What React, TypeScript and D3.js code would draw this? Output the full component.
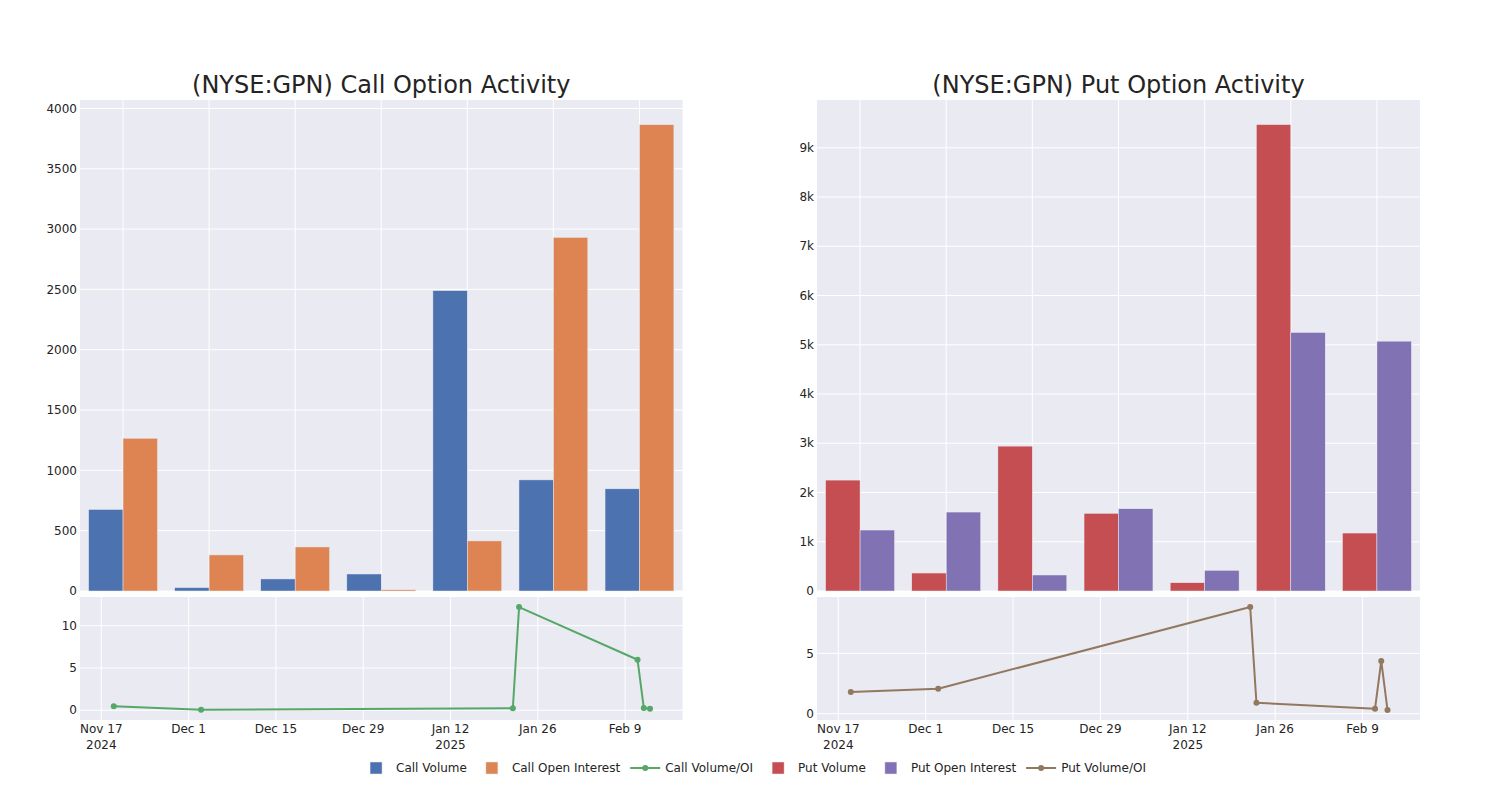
import React from 'react';
import * as d3 from 'd3';

// ---------- data ----------
const periods = ['W1', 'W2', 'W3', 'W4', 'W5', 'W6', 'W7'];
const callVolume = [676, 28, 100, 141, 2490, 921, 847];
const callOpenInterest = [1266, 299, 365, 10, 415, 2931, 3865];
const putVolume = [2252, 365, 2942, 1577, 168, 9471, 1177];
const putOpenInterest = [1238, 1603, 325, 1670, 420, 5250, 5073];

const ratioDates = ['2024-11-19', '2024-12-03', '2025-01-22', '2025-01-23', '2025-02-11', '2025-02-12', '2025-02-13'];
const callRatio = [0.47, 0.07, 0.24, 12.2, 5.97, 0.27, 0.19];
const putRatio = [1.8, 2.07, 8.84, 0.91, 0.41, 4.37, 0.31];

const dateTicks = ['2024-11-17', '2024-12-01', '2024-12-15', '2024-12-29', '2025-01-12', '2025-01-26', '2025-02-09'];
const dateDomain = ['2024-11-13 14:00', '2025-02-18 05:00'];
const callBarTicks = [0, 500, 1000, 1500, 2000, 2500, 3000, 3500, 4000];
const putBarTicks = [0, 1000, 2000, 3000, 4000, 5000, 6000, 7000, 8000, 9000];
const callRatioTicks = [0, 5, 10];
const putRatioTicks = [0, 5];
const callBarMax = 4070;
const putBarMax = 9970;
const callRatioDomain = [-1.15, 13.39];
const putRatioDomain = [-0.52, 9.67];

const titles = ['(NYSE:GPN) Call Option Activity', '(NYSE:GPN) Put Option Activity'];

const COLORS = {
  callVol: 'rgb(76,114,176)',
  callOI: 'rgb(221,132,82)',
  callRatio: 'rgb(85,168,104)',
  putVol: 'rgb(196,78,82)',
  putOI: 'rgb(129,114,179)',
  putRatio: 'rgb(147,120,96)',
};

const legendItems = [
  { name: 'Call Volume', color: COLORS.callVol, type: 'bar' },
  { name: 'Call Open Interest', color: COLORS.callOI, type: 'bar' },
  { name: 'Call Volume/OI', color: COLORS.callRatio, type: 'line' },
  { name: 'Put Volume', color: COLORS.putVol, type: 'bar' },
  { name: 'Put Open Interest', color: COLORS.putOI, type: 'bar' },
  { name: 'Put Volume/OI', color: COLORS.putRatio, type: 'line' },
];

const FONT = '"DejaVu Sans", Verdana, sans-serif';
const TEXT = 'rgb(36,36,36)';
const BG = 'rgb(234,234,242)';

const parseDay = d3.timeParse('%Y-%m-%d');
const parseDT = d3.timeParse('%Y-%m-%d %H:%M');
const fmtMD = d3.timeFormat('%b %-d');

function measure(text: string, size: number) {
  const c = document.createElement('canvas').getContext('2d');
  if (!c) return text.length * size * 0.6;
  c.font = `${size}px "DejaVu Sans"`;
  return c.measureText(text).width;
}

type PanelProps = {
  x0: number; x1: number;
  title: string;
  vol: number[]; oi: number[];
  volColor: string; oiColor: string;
  barMax: number; barTicks: number[]; barFmt: (v: number) => string;
  ratio: number[]; ratioColor: string; ratioDomain: number[]; ratioTicks: number[];
};

const TOP_Y0 = 100, TOP_Y1 = 591, BOT_Y0 = 597, BOT_Y1 = 720;

function Panel(p: PanelProps) {
  const xb = d3.scaleBand<string>().domain(periods).range([p.x0, p.x1]).paddingInner(0).paddingOuter(0);
  const inner = d3.scaleBand<string>().domain(['v', 'o']).range([0, xb.bandwidth() * 0.8]);
  const yb = d3.scaleLinear().domain([0, p.barMax]).range([TOP_Y1, TOP_Y0]);
  const xd = d3.scaleTime().domain([parseDT(dateDomain[0])!, parseDT(dateDomain[1])!]).range([p.x0, p.x1]);
  const yr = d3.scaleLinear().domain(p.ratioDomain).range([BOT_Y1, BOT_Y0]);
  const pts = ratioDates.map((d, i) => [xd(parseDay(d)!), yr(p.ratio[i])] as [number, number]);
  const line = d3.line()(pts) || '';
  const ticks = dateTicks.map((d) => parseDay(d)!);
  return (
    <g>
      <text x={(p.x0 + p.x1) / 2} y={93} textAnchor="middle" fontSize={24} fill={TEXT} fontFamily={FONT}>{p.title}</text>
      {/* top bar plot */}
      <rect x={p.x0} y={TOP_Y0} width={p.x1 - p.x0} height={TOP_Y1 - TOP_Y0} fill={BG} />
      {periods.map((c) => (
        <line key={c} x1={xb(c)! + xb.bandwidth() / 2} x2={xb(c)! + xb.bandwidth() / 2} y1={TOP_Y0} y2={TOP_Y1} stroke="white" strokeWidth={1} />
      ))}
      {p.barTicks.map((t) => (
        <g key={t}>
          <line x1={p.x0} x2={p.x1} y1={yb(t)} y2={yb(t)} stroke="white" strokeWidth={1} />
          <text x={p.x0 - 3} y={yb(t)} dy="0.35em" textAnchor="end" fontSize={12} fill={TEXT} fontFamily={FONT}>{p.barFmt(t)}</text>
        </g>
      ))}
      {periods.map((c, i) => {
        const gx = xb(c)! + xb.bandwidth() * 0.1;
        return (
          <g key={c}>
            <rect x={gx + inner('v')!} y={yb(p.vol[i])} width={inner.bandwidth()} height={TOP_Y1 - yb(p.vol[i])} fill={p.volColor} stroke={BG} strokeWidth={0.5} />
            <rect x={gx + inner('o')!} y={yb(p.oi[i])} width={inner.bandwidth()} height={TOP_Y1 - yb(p.oi[i])} fill={p.oiColor} stroke={BG} strokeWidth={0.5} />
          </g>
        );
      })}
      {/* bottom ratio plot */}
      <rect x={p.x0} y={BOT_Y0} width={p.x1 - p.x0} height={BOT_Y1 - BOT_Y0} fill={BG} />
      {ticks.map((t, i) => {
        const x = xd(t);
        const showYear = i === 0 || t.getFullYear() !== ticks[i - 1].getFullYear();
        return (
          <g key={i}>
            <line x1={x} x2={x} y1={BOT_Y0} y2={BOT_Y1} stroke="white" strokeWidth={1} />
            <text x={x} y={733} textAnchor="middle" fontSize={12} fill={TEXT} fontFamily={FONT}>{fmtMD(t)}</text>
            {showYear && <text x={x} y={749} textAnchor="middle" fontSize={12} fill={TEXT} fontFamily={FONT}>{t.getFullYear()}</text>}
          </g>
        );
      })}
      {p.ratioTicks.map((t) => (
        <g key={t}>
          <line x1={p.x0} x2={p.x1} y1={yr(t)} y2={yr(t)} stroke="white" strokeWidth={1} />
          <text x={p.x0 - 3} y={yr(t)} dy="0.35em" textAnchor="end" fontSize={12} fill={TEXT} fontFamily={FONT}>{t}</text>
        </g>
      ))}
      <path d={line} fill="none" stroke={p.ratioColor} strokeWidth={2} strokeLinejoin="round" />
      {pts.map((q, i) => (
        <circle key={i} cx={q[0]} cy={q[1]} r={3} fill={p.ratioColor} />
      ))}
    </g>
  );
}

function Legend() {
  const widths = legendItems.map((it) => 40 + measure(it.name, 12) + 5);
  const total = d3.sum(widths) - 5;
  let x = 751 - total / 2;
  const y = 768;
  return (
    <g>
      {legendItems.map((it, i) => {
        const sx = x;
        x += widths[i];
        return (
          <g key={it.name}>
            {it.type === 'bar' ? (
              <rect x={sx + 14} y={y - 6} width={12} height={12} fill={it.color} stroke={BG} strokeWidth={0.5} />
            ) : (
              <g>
                <line x1={sx + 5} x2={sx + 35} y1={y} y2={y} stroke={it.color} strokeWidth={2} />
                <circle cx={sx + 20} cy={y} r={3} fill={it.color} />
              </g>
            )}
            <text x={sx + 40} y={y} dy="0.35em" fontSize={12} fill={TEXT} fontFamily={FONT}>{it.name}</text>
          </g>
        );
      })}
    </g>
  );
}

export default function App() {
  const kfmt = (v: number) => (v === 0 ? '0' : d3.format('~s')(v));
  return (
    <svg width={1500} height={800} style={{ position: 'absolute', left: 0, top: 0, background: 'white' }} fontFamily={FONT}>
      <rect x={0} y={0} width={1500} height={800} fill="white" />
      <Panel x0={80} x1={682.5} title={titles[0]} vol={callVolume} oi={callOpenInterest}
        volColor={COLORS.callVol} oiColor={COLORS.callOI} barMax={callBarMax} barTicks={callBarTicks}
        barFmt={(v) => String(v)} ratio={callRatio} ratioColor={COLORS.callRatio}
        ratioDomain={callRatioDomain} ratioTicks={callRatioTicks} />
      <Panel x0={817} x1={1420} title={titles[1]} vol={putVolume} oi={putOpenInterest}
        volColor={COLORS.putVol} oiColor={COLORS.putOI} barMax={putBarMax} barTicks={putBarTicks}
        barFmt={kfmt} ratio={putRatio} ratioColor={COLORS.putRatio}
        ratioDomain={putRatioDomain} ratioTicks={putRatioTicks} />
      <Legend />
    </svg>
  );
}
